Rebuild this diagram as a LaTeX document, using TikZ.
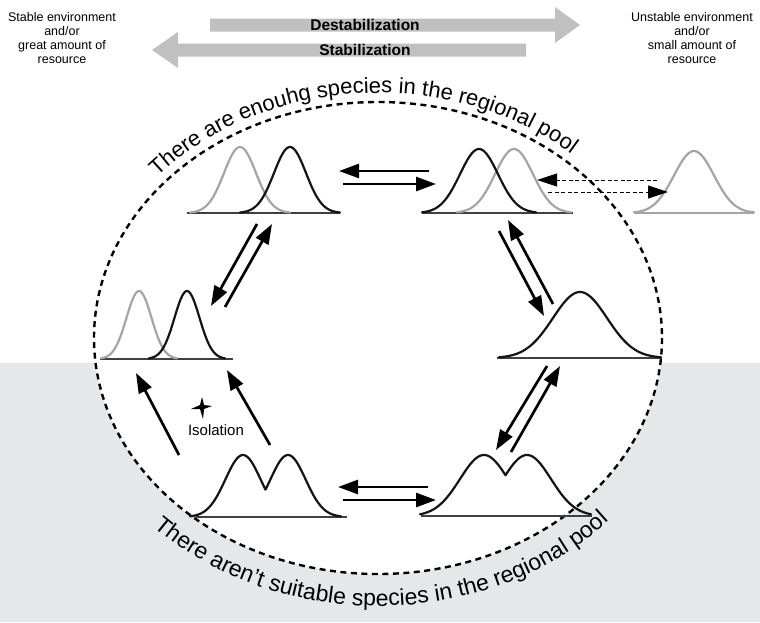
\documentclass[tikz,border=0pt]{standalone}
\usepackage{fontspec}
\setmainfont{Liberation Sans}
\usetikzlibrary{arrows.meta,decorations.text}
\definecolor{bgshade}{RGB}{230,231,232}
\definecolor{bandgray}{RGB}{192,192,192}
\definecolor{curvegray}{RGB}{165,165,165}
\newcommand\toparcfont{\fontsize{22}{26}\selectfont}
\newcommand\lowarcfont{\fontsize{23}{27}\selectfont}
\begin{document}
\begin{tikzpicture}[x=1pt,y=-1pt,
  declare function={gs(\t,\m,\s)=exp(-0.5*((\t-\m)/\s)^2);},
  curve/.style={line width=2.2pt,line join=round,line cap=round},
  blackcurve/.style={curve,black!92},
  graycurve/.style={curve,curvegray},
  axis/.style={line width=1.1pt,black!75},
  grayaxis/.style={line width=1.1pt,curvegray},
  flow/.style={line width=2.7pt,-{Triangle[length=20pt,width=14pt]}},
  swapflow/.style={line width=1pt,dash pattern=on 4pt off 2.5pt,-{Triangle[length=20pt,width=13pt]}},
  hdr/.style={align=center,font=\fontsize{12.5}{14}\selectfont,inner sep=0pt},
  bandlabel/.style={font=\fontsize{15.5}{18}\selectfont\bfseries,inner sep=0pt},
  ring/.style={line width=2.4pt,dash pattern=on 6pt off 4.5pt}
]
\useasboundingbox (0,0) rectangle (760,622);
\fill[white] (0,0) rectangle (760,622);
% shaded lower half, with the pool ring cut out in white
\fill[bgshade] (0,363) rectangle (760,622);
\fill[white] (378,338) ellipse [x radius=284,y radius=236];
\draw[ring] (378,338) ellipse [x radius=284,y radius=236];

% texts running round the ring
\path[decorate,decoration={text along path,text align=center,
  text={|\toparcfont|There are enouhg species in the regional pool}}]
  (378,338) ++(200:293 and 245) arc[start angle=200,end angle=332,x radius=293,y radius=245];
\path[decorate,decoration={text along path,text align=center,
  text={|\lowarcfont|There aren’t suitable species in the regional pool}}]
  (378,338) ++(160:316 and 268) arc[start angle=160,end angle=18,x radius=316,y radius=268];

% header: environment gradient
\node[hdr] (stableTxt) at (62,38) {Stable environment\\and/or\\great amount of\\resource};
\node[hdr] (unstableTxt) at (692,38) {Unstable environment\\and/or\\small amount of\\resource};
\fill[bandgray] (210,18.5) -- (555,18.5) -- (555,7) -- (580,25) -- (555,43) -- (555,31.5) -- (210,31.5) -- cycle;
\fill[bandgray] (526,43.5) -- (178,43.5) -- (178,32) -- (152,50) -- (178,68) -- (178,56.5) -- (526,56.5) -- cycle;
\node[bandlabel] (destab) at (365,25) {Destabilization};
\node[bandlabel] (stab) at (365,50) {Stabilization};

% top left: two separated niches
\draw[axis] (187,213) -- (340,213);
\draw[graycurve] plot[domain=190:290,samples=70] (\x,{213-66*gs(\x,240,16)});
\draw[blackcurve] plot[domain=240:340,samples=70] (\x,{213-66*gs(\x,290,16)});
% top right: overlapping niches
\draw[axis] (422,213) -- (573,213);
\draw[graycurve] plot[domain=457:571,samples=70] (\x,{213-64*gs(\x,514,19)});
\draw[blackcurve] plot[domain=422:536,samples=70] (\x,{213-64*gs(\x,479,19)});
% outside the pool
\draw[grayaxis] (634,213) -- (754,213);
\draw[graycurve] plot[domain=634:754,samples=70] (\x,{213-62*gs(\x,694,20)});
% middle left: narrow niches
\draw[axis] (100,359) -- (233,359);
\draw[graycurve] plot[domain=101:177,samples=70] (\x,{359-68*gs(\x,139,12.5)});
\draw[blackcurve] plot[domain=149:225,samples=70] (\x,{359-68*gs(\x,187,12.5)});
% middle right: one broad niche
\draw[axis] (497,358) -- (662,358);
\draw[blackcurve] plot[domain=499:661,samples=90] (\x,{358-66*gs(\x,580,27)});
% bottom left: split niche
\draw[axis] (196,517) -- (347,517);
\draw[blackcurve] plot[domain=190:341,samples=121] (\x,{517-62*max(gs(\x,243,17.6),gs(\x,288,17.6))});
% bottom right: shallow split niche
\draw[axis] (421,516) -- (592,516);
\draw[blackcurve] plot[domain=420:591,samples=121] (\x,{516-61*max(gs(\x,484,24),gs(\x,527,24))});

% connector end points
\coordinate (tlR) at (429,171);  \coordinate (tlL) at (339,171);
\coordinate (trL) at (343,184);  \coordinate (trR) at (436,184);
\coordinate (blR) at (428,487);  \coordinate (blL) at (338,487);
\coordinate (brL) at (343,500);  \coordinate (brR) at (436,500);
\coordinate (ldA) at (257,224);  \coordinate (ldB) at (211,306);
\coordinate (luA) at (225,307);  \coordinate (luB) at (272,224);
\coordinate (rdA) at (499,231);  \coordinate (rdB) at (544,316);
\coordinate (ruA) at (553,304);  \coordinate (ruB) at (508,220);
\coordinate (lrdA) at (547,366); \coordinate (lrdB) at (496,450);
\coordinate (lruA) at (511,452); \coordinate (lruB) at (560,366);
\coordinate (isoA) at (179,455); \coordinate (isoB) at (136,373);
\coordinate (sepA) at (270,445); \coordinate (sepB) at (227,370);
\coordinate (outA) at (657,180); \coordinate (outB) at (537,180);
\coordinate (inA) at (548,192);  \coordinate (inB) at (668,192);

\draw[flow] (tlR) -- (tlL);
\draw[flow] (trL) -- (trR);
\draw[flow] (blR) -- (blL);
\draw[flow] (brL) -- (brR);
\draw[flow] (ldA) -- (ldB);
\draw[flow] (luA) -- (luB);
\draw[flow] (rdA) -- (rdB);
\draw[flow] (ruA) -- (ruB);
\draw[flow] (lrdA) -- (lrdB);
\draw[flow] (lruA) -- (lruB);
\draw[flow] (isoA) -- (isoB);
\draw[flow] (sepA) -- (sepB);
\draw[swapflow] (outA) -- (outB);
\draw[swapflow] (inA) -- (inB);

% isolation event
\fill (202,397) -- (204,405) -- (212,406) -- (204,409) -- (203,419) -- (200,409) -- (191,409) -- (200,405) -- cycle;
\node[font=\fontsize{15}{17}\selectfont,inner sep=0pt] (isoTxt) at (216,430) {Isolation};
\end{tikzpicture}
\end{document}
